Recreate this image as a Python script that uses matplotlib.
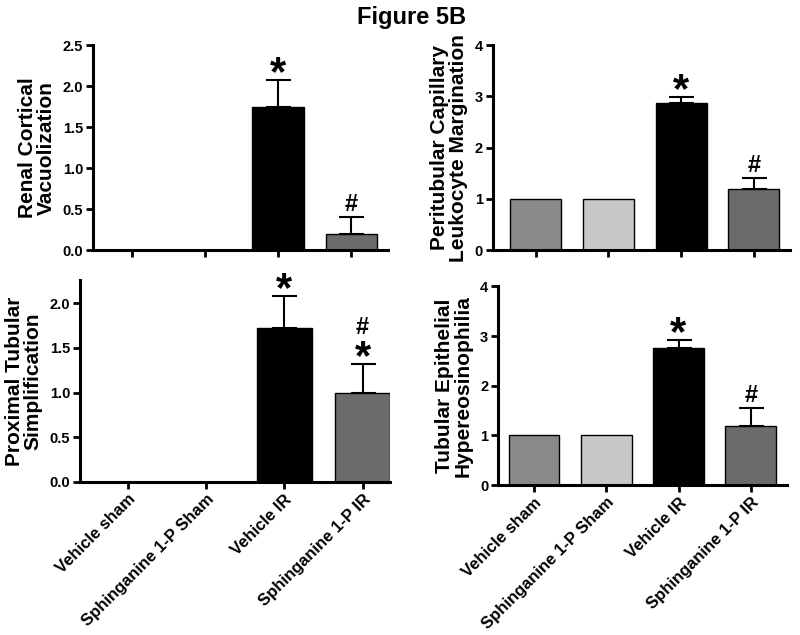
import matplotlib
matplotlib.use('Agg')
import matplotlib.pyplot as plt

plt.rcParams['font.family'] = ['Liberation Sans', 'DejaVu Sans']
plt.rcParams['font.weight'] = 'bold'

groups = ['Vehicle sham', 'Sphinganine 1-P Sham', 'Vehicle IR', 'Sphinganine 1-P IR']
colors = ['#8a8a8a', '#c8c8c8', '#000000', '#6b6b6b']

# renal cortical vacuolization
vacuol = [0, 0, 1.75, 0.2]
vacuol_err = [0, 0, 0.32, 0.2]
vacuol_marks = ['', '', '*', '#']

# peritubular capillary leukocyte margination
margin = [1, 1, 2.87, 1.2]
margin_err = [0, 0, 0.11, 0.2]
margin_marks = ['', '', '*', '#']

# proximal tubular simplification
simpl = [0, 0, 1.72, 1.0]
simpl_err = [0, 0, 0.36, 0.32]
simpl_marks = ['', '', '*', '#\n*']

# tubular epithelial hypereosinophilia
eosin = [1, 1, 2.75, 1.2]
eosin_err = [0, 0, 0.17, 0.35]
eosin_marks = ['', '', '*', '#']


def panel(ax, vals, errs, marks, ylabel, ylim, yticks, ytlabels, xlim, showx):
	x = list(range(len(vals)))
	ax.bar(x, vals, width=0.7, color=colors, edgecolor='black', linewidth=1)
	i = 0
	while (i < len(vals)):
		if (errs[i] > 0):
			ax.errorbar(x[i], vals[i], yerr=[[0], [errs[i]]], fmt='none',
						ecolor='black', elinewidth=1.5, capsize=9, capthick=1.5)
		if (marks[i] != ''):
			top = vals[i] + errs[i]
			if ('\n' in marks[i]):
				parts = marks[i].split('\n')
				ax.annotate(parts[1], (x[i], top), xytext=(0, -10), textcoords='offset points',
							ha='center', va='bottom', fontsize=30, fontweight='bold')
				ax.annotate(parts[0], (x[i], top), xytext=(0, 18), textcoords='offset points',
							ha='center', va='bottom', fontsize=17, fontweight='bold')
			elif (marks[i] == '*'):
				ax.annotate('*', (x[i], top), xytext=(0, -10), textcoords='offset points',
							ha='center', va='bottom', fontsize=30, fontweight='bold')
			else:
				ax.annotate('#', (x[i], top), xytext=(0, 1), textcoords='offset points',
							ha='center', va='bottom', fontsize=17, fontweight='bold')
		i += 1
	ax.set_xlim(xlim)
	ax.set_ylim(ylim)
	ax.set_yticks(yticks)
	ax.set_yticklabels(ytlabels, fontsize=10.5, fontweight='bold')
	ax.set_xticks(x)
	if (showx):
		ax.set_xticklabels(groups, rotation=45, ha='right', rotation_mode='anchor',
						   fontsize=12, fontweight='bold')
	else:
		ax.set_xticklabels([])
	ax.set_ylabel(ylabel, fontsize=15, fontweight='bold', linespacing=1.0, labelpad=5)
	ax.spines['top'].set_visible(False)
	ax.spines['right'].set_visible(False)
	ax.spines['left'].set_linewidth(2.2)
	ax.spines['bottom'].set_linewidth(2.2)
	ax.tick_params(width=2, length=5, pad=2)


fig = plt.figure(figsize=(8, 6.35), dpi=100)
fig.suptitle('Figure 5B', x=0.515, y=0.99, fontsize=17, fontweight='bold')

ax1 = fig.add_axes([0.116, 0.606, 0.369, 0.323])
panel(ax1, vacuol, vacuol_err, vacuol_marks, 'Renal Cortical\nVacuolization',
	  (0, 2.5), [0, 0.5, 1.0, 1.5, 2.0, 2.5], ['0.0', '0.5', '1.0', '1.5', '2.0', '2.5'],
	  (-0.53, 3.5), False)

ax2 = fig.add_axes([0.616, 0.606, 0.371, 0.323])
panel(ax2, margin, margin_err, margin_marks, 'Peritubular Capillary\nLeukocyte Margination',
	  (0, 4), [0, 1, 2, 3, 4], ['0', '1', '2', '3', '4'], (-0.59, 3.49), False)

ax3 = fig.add_axes([0.1, 0.241, 0.3875, 0.318])
panel(ax3, simpl, simpl_err, simpl_marks, 'Proximal Tubular\nSimplification',
	  (0, 2.26), [0, 0.5, 1.0, 1.5, 2.0], ['0.0', '0.5', '1.0', '1.5', '2.0'],
	  (-0.61, 3.35), True)

ax4 = fig.add_axes([0.6225, 0.236, 0.361, 0.313])
panel(ax4, eosin, eosin_err, eosin_marks, 'Tubular Epithelial\nHypereosinophilia',
	  (0, 4), [0, 1, 2, 3, 4], ['0', '1', '2', '3', '4'], (-0.5, 3.5), True)

fig.savefig('out.png', dpi=100)
